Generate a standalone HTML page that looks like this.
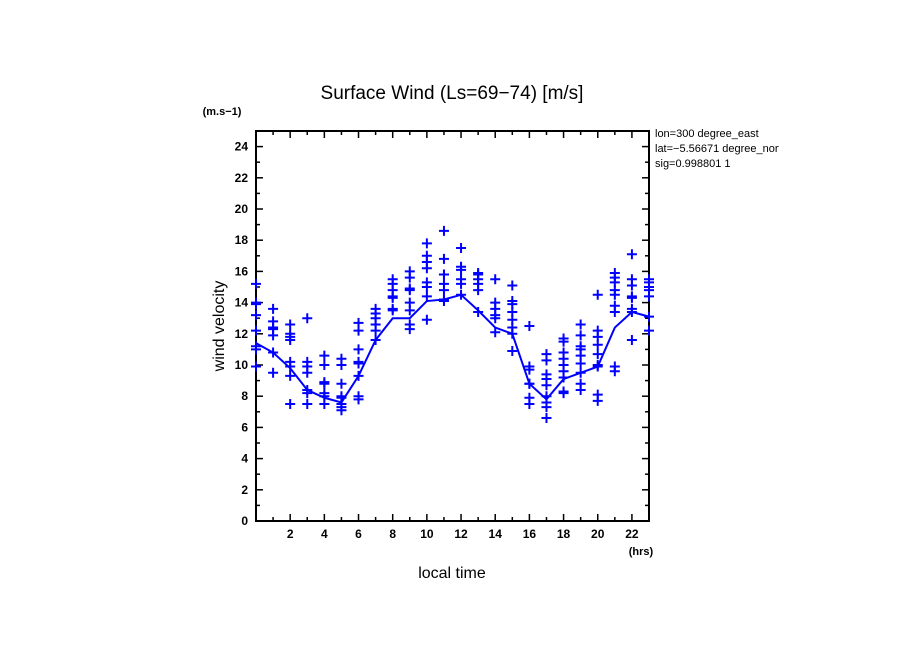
<!DOCTYPE html>
<html><head><meta charset="utf-8"><style>
body{margin:0;background:#fff}
svg{display:block;font-family:"Liberation Sans",sans-serif}
</style></head><body>
<svg id="c" width="904" height="654">
<text x="452" y="99" font-size="19" text-anchor="middle">Surface Wind  (Ls=69−74) [m/s]</text>
<text x="222" y="115" font-size="11" font-weight="bold" text-anchor="middle">(m.s−1)</text>
<text x="641" y="555" font-size="11" font-weight="bold" text-anchor="middle">(hrs)</text>
<text x="452" y="578" font-size="16" text-anchor="middle">local time</text>
<text transform="translate(224,326) rotate(-90)" font-size="16" text-anchor="middle">wind velocity</text>
<svg x="655" y="124" width="124" height="50">
<text x="0" y="13" font-size="11">lon=300 degree_east</text>
<text x="0" y="28" font-size="11">lat=−5.56671 degree_north</text>
<text x="0" y="43" font-size="11">sig=0.998801 1</text>
</svg>
<g id="axes"></g><g id="marks"></g>
</svg>
<script>
const hours=[0,1,2,3,4,5,6,7,8,9,10,11,12,13,14,15,16,17,18,19,20,21,22,23];
const meanValues=[11.4,10.8,9.8,8.4,7.9,7.6,9.3,11.6,13.0,13.0,14.1,14.2,14.5,13.5,12.4,12.0,8.8,7.8,9.1,9.5,9.9,12.4,13.4,13.1];
const samples=[
[15.2,14.0,13.9,13.2,12.2,11.2,11.0,9.9],
[13.6,12.8,12.4,12.3,11.9,10.8,9.5],
[12.6,12.0,11.8,11.6,10.2,9.9,9.3,7.5],
[13.0,10.2,9.9,9.5,8.4,8.2,7.5],
[10.6,10.0,8.9,8.8,8.2,8.0,7.5],
[10.4,10.0,8.8,8.0,7.9,7.5,7.3,7.1],
[12.7,12.2,11.0,10.2,10.1,9.3,8.0,7.8],
[13.6,13.3,13.0,12.6,12.2,11.6],
[15.5,15.2,14.8,14.4,14.3,13.6,13.5],
[16.0,15.6,14.9,14.8,14.0,13.5,12.6,12.3],
[17.8,17.0,16.6,16.2,15.3,15.0,14.4,12.9],
[18.6,16.8,15.8,15.8,15.2,14.8,14.2,14.1],
[17.5,16.3,16.1,15.5,15.2,14.5],
[15.9,15.8,15.5,15.2,14.8,13.4],
[15.5,14.0,13.6,13.2,13.0,12.1],
[15.1,14.1,13.9,13.4,12.9,12.4,12.0,10.9],
[12.5,9.9,9.7,8.8,8.8,7.9,7.5],
[10.7,10.3,9.4,9.1,8.7,8.0,7.6,7.3,6.6],
[11.7,11.5,10.8,10.4,10.0,9.6,9.2,8.2,8.3],
[12.6,11.9,11.2,11.0,10.6,10.1,9.5,8.8,8.4],
[14.5,12.2,11.8,11.3,10.7,10.0,9.9,8.1,7.7],
[15.9,15.6,15.3,14.8,14.5,13.8,13.4,9.9,9.6],
[17.1,15.5,15.1,14.4,14.3,13.6,13.4,11.6],
[15.5,15.3,15.0,14.8,14.4,13.1,12.2]];
const yTicks=[0,2,4,6,8,10,12,14,16,18,20,22,24];
const xTicks=[2,4,6,8,10,12,14,16,18,20,22];
const NS="http://www.w3.org/2000/svg";
const X0=256,X1=649,Y0=521,Y1=131,xMax=23,yMax=25;
const sx=v=>X0+v*(X1-X0)/xMax, sy=v=>Y0-v*(Y0-Y1)/yMax;
function mk(t,a,p){const e=document.createElementNS(NS,t);for(const k in a)e.setAttribute(k,a[k]);p.appendChild(e);return e;}
const ax=document.getElementById('axes'),mg=document.getElementById('marks');
const frame=mk('rect',{x:X0,y:Y1,width:X1-X0,height:Y0-Y1,fill:'none',stroke:'#000','stroke-width':2},ax);


for(let v=0;v<=yMax;v++){const L=v%2==0?7:4;
 mk('line',{x1:X0,x2:X0+L,y1:sy(v),y2:sy(v),stroke:'#000','stroke-width':1.5},ax);
 mk('line',{x1:X1,x2:X1-L,y1:sy(v),y2:sy(v),stroke:'#000','stroke-width':1.5},ax);}
for(let v=1;v<xMax;v++){const L=v%2==0?7:4;
 mk('line',{x1:sx(v),x2:sx(v),y1:Y0,y2:Y0-L,stroke:'#000','stroke-width':1.5},ax);
 mk('line',{x1:sx(v),x2:sx(v),y1:Y1,y2:Y1+L,stroke:'#000','stroke-width':1.5},ax);}
yTicks.forEach(v=>{const t=mk('text',{x:248,y:sy(v)+4,'font-size':12,'font-weight':'bold','text-anchor':'end'},ax);t.textContent=v;
 
 });
xTicks.forEach(v=>{const t=mk('text',{x:sx(v),y:538,'font-size':12,'font-weight':'bold','text-anchor':'middle'},ax);t.textContent=v;
 
 });
const line=mk('polyline',{points:hours.map((h,i)=>sx(h)+','+sy(meanValues[i])).join(' '),fill:'none',stroke:'#00f','stroke-width':2},mg);


hours.forEach((h,i)=>samples[i].forEach(v=>{const x=sx(h),y=sy(v);
 const p=mk('path',{d:`M${x-5},${y}H${x+5}M${x},${y-5}V${y+5}`,stroke:'#00f','stroke-width':2},mg);
 
 }));
</script>
</body></html>
